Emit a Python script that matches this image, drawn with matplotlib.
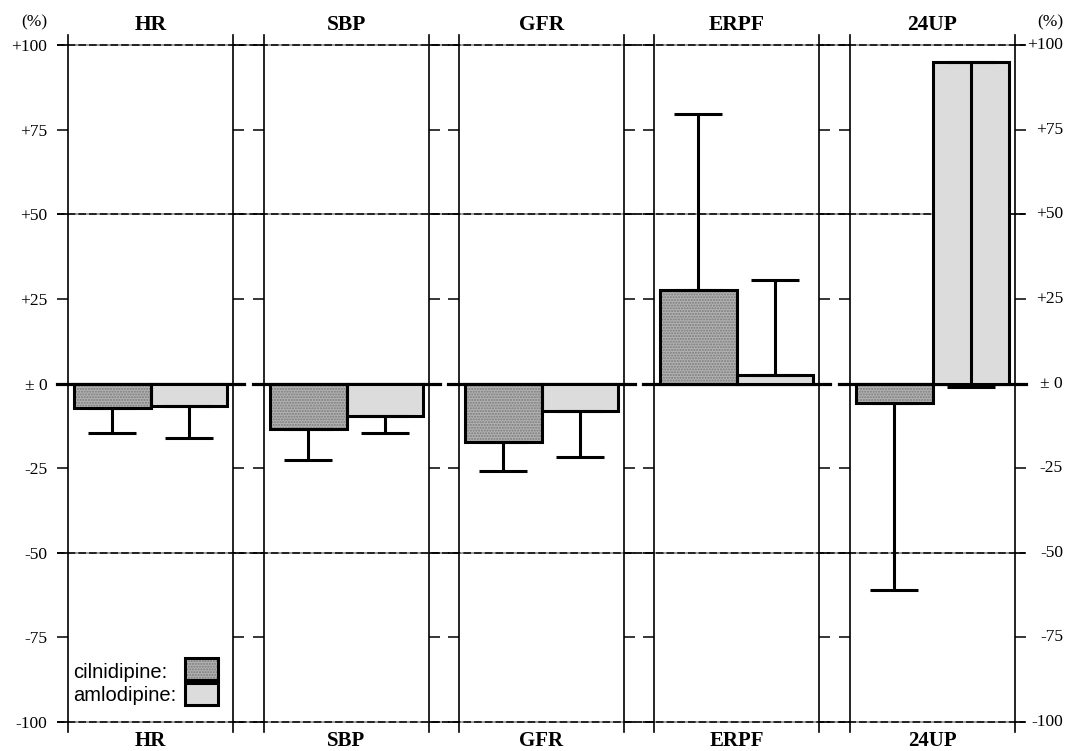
import matplotlib
matplotlib.use("Agg")
import matplotlib.pyplot as plt
from matplotlib.patches import Rectangle
import matplotlib.transforms as mtrans

# data (% change)
params = ["HR", "SBP", "GFR", "ERPF", "24UP"]
cilni = [-7.3, -13.4, -17.3, 27.6, -5.8]
cilni_err = [7.3, 9.2, 8.5, 52.0, 55.2]
amlo = [-6.6, -9.6, -8.1, 2.4, 95.0]
amlo_err = [9.4, 5.0, 13.6, 28.2, -96.0]   # negative -> bar drawn downward
yticks = [100, 75, 50, 25, 0, -25, -50, -75, -100]
ylabels = ["+100", "+75", "+50", "+25", "\u00b1 0", "-25", "-50", "-75", "-100"]

serif = "Liberation Serif"
W, H = 1066, 751
fig = plt.figure(figsize=(W / 100, H / 100), dpi=100)

lefts = [68, 264, 459, 654, 850]
pw = 165
top_px, bot_px = 35, 732
ylim = (-103, 103)

def fx(px):
    return px / W

def fy(py):
    return 1 - py / H

# background axes for the long horizontal reference lines
bg = fig.add_axes([fx(57), fy(bot_px), fx(1025 - 57), fy(top_px) - fy(bot_px)], zorder=0)
bg.set_xlim(0, 1)
bg.set_ylim(*ylim)
bg.axis("off")
for yv in [100, 50, -50, -100]:
    bg.axhline(yv, color="#888888", lw=1.1)
    bg.axhline(yv, color="black", lw=1.1, dashes=(5, 2))

cil_face = "#b2b2b2"
aml_face = "#dcdcdc"

axes = []
for i, name in enumerate(params):
    ax = fig.add_axes([fx(lefts[i]), fy(bot_px), fx(pw), fy(top_px) - fy(bot_px)], zorder=1)
    ax.patch.set_alpha(0)
    axes.append(ax)
    ax.set_xlim(0, 2)
    ax.set_ylim(*ylim)
    for s in ["top", "bottom"]:
        ax.spines[s].set_visible(False)
    for s in ["left", "right"]:
        ax.spines[s].set_linewidth(1.2)
    ax.set_xticks([])
    ax.set_yticks(yticks)
    ax.tick_params(axis="y", which="both", direction="out", length=8, width=1.1,
                   left=True, right=True, labelleft=(i == 0), labelright=False,
                   labelsize=12.5, pad=7)
    ax.set_yticklabels(ylabels, fontfamily=serif)

    # zero line
    ax.plot([-0.13, 2.13], [0, 0], color="black", lw=2.3, clip_on=False, zorder=2)

    # bars
    ax.bar(0.07, cilni[i], width=0.93, align="edge", color=cil_face, hatch="......",
           edgecolor="#7a7a7a", lw=0, zorder=3)
    ax.bar(0.07, cilni[i], width=0.93, align="edge", fill=False, edgecolor="black",
           lw=2.2, zorder=4)
    ax.bar(1.0, amlo[i], width=0.93, align="edge", color=aml_face, edgecolor="black",
           lw=2.2, zorder=3)

    # one-sided error bars
    for xc, v, e in [(0.535, cilni[i], cilni_err[i]), (1.465, amlo[i], amlo_err[i])]:
        sgn = 1 if v >= 0 else -1
        if e < 0:
            sgn = -sgn
            e = -e
        lo, hi = ([0], [e]) if sgn > 0 else ([e], [0])
        ax.errorbar(xc, v, yerr=[lo, hi], fmt="none", ecolor="black", elinewidth=2.2,
                    capsize=17, capthick=2.2, zorder=5)

    ax.set_title(name, fontfamily=serif, fontweight="bold", fontsize=15.5, pad=0)
    fig.text(fx(lefts[i] + pw / 2), fy(746), name, ha="center", va="baseline",
             fontfamily=serif, fontweight="bold", fontsize=15)

# right-hand labels, right aligned
axr = axes[-1]
tr = mtrans.blended_transform_factory(axr.transAxes, axr.transData) + \
    mtrans.ScaledTranslation(48 / 100, 0, fig.dpi_scale_trans)
for yv, lab in zip(yticks, ylabels):
    axr.text(1, yv, lab, transform=tr, ha="right", va="center",
             fontfamily=serif, fontsize=12.5)

fig.text(fx(34), fy(22), "(%)", ha="center", va="center", fontfamily=serif, fontsize=12.5)
fig.text(fx(1050), fy(22), "(%)", ha="center", va="center", fontfamily=serif, fontsize=12.5)

# legend
ax0 = axes[0]
ax0.text(0.06, -85.3, "cilnidipine:", ha="left", va="center", fontfamily="Liberation Sans", fontsize=14.5)
ax0.text(0.06, -92.2, "amlodipine:", ha="left", va="center", fontfamily="Liberation Sans", fontsize=14.5)
ax0.add_patch(Rectangle((1.42, -87.6), 0.40, 6.5, facecolor=cil_face, hatch="......",
                        edgecolor="#7a7a7a", lw=0, zorder=3))
ax0.add_patch(Rectangle((1.42, -87.6), 0.40, 6.5, fill=False, edgecolor="black", lw=2.2, zorder=4))
ax0.add_patch(Rectangle((1.42, -95.0), 0.40, 6.5, facecolor=aml_face, edgecolor="black", lw=2.2, zorder=3))

fig.savefig("out.png", dpi=100)
